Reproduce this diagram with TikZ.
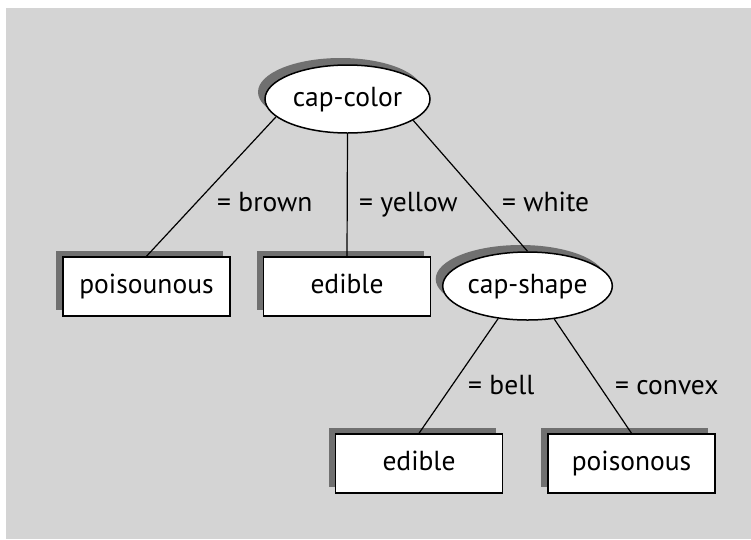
\documentclass[tikz,border=0pt]{standalone}
\usepackage{fontspec}
\setmainfont{PT Sans}
\usetikzlibrary{shapes.geometric,shadows}
\definecolor{bggray}{RGB}{212,212,212}
\definecolor{shadowgray}{RGB}{112,112,112}
\tikzset{
  leaf/.style={draw, line width=1.5pt, fill=white, rectangle, minimum width=167pt,
    minimum height=59pt, inner sep=0pt, font=\fontsize{27.5}{32}\selectfont,
    text height=20pt, text depth=6pt,
    general shadow={fill=shadowgray, shadow xshift=-7pt, shadow yshift=6pt}},
  test/.style={draw, line width=1.5pt, fill=white, ellipse, minimum width=165pt,
    minimum height=68pt, inner sep=0pt, font=\fontsize{27.5}{32}\selectfont,
    text height=20pt, text depth=6pt,
    general shadow={fill=shadowgray, shadow xshift=-7pt, shadow yshift=7pt}},
  val/.style={anchor=west, inner sep=0pt, font=\fontsize{27.5}{32}\selectfont,
    text height=20pt, text depth=6pt},
  branch/.style={line width=1.2pt}
}
\begin{document}
\begin{tikzpicture}[x=1pt,y=-1pt]
\useasboundingbox (0,0) rectangle (751,539);
\fill[bggray] (6,8) rectangle (751,539);
% tests
\node[test] (capcolor) at (347.5,99){cap-color};
\node[test] (capshape) at (527.5,286){cap-shape};
% leaves
\node[leaf] (poisounous) at (146.5,286.5){poisounous};
\node[leaf] (edible1) at (347,286.5){edible};
\node[leaf] (edible2) at (419,463.5){edible};
\node[leaf] (poisonous) at (631.5,463.5){poisonous};
% branches
\draw[branch](capcolor.194) -- (poisounous.north);
\draw[branch](capcolor.south) -- (edible1.north);
\draw[branch](capcolor.342) -- (capshape.north);
\draw[branch](capshape.228) -- (edible2.north);
\draw[branch](capshape.309) -- (poisonous.north);
% values
\node[val] (vbrown) at (217,204){= brown};
\node[val] (vyellow) at (359,204){= yellow};
\node[val] (vwhite) at (502,204){= white};
\node[val] (vbell) at (468,387){= bell};
\node[val] (vconvex) at (615,387){= convex};

\end{tikzpicture}
\end{document}
